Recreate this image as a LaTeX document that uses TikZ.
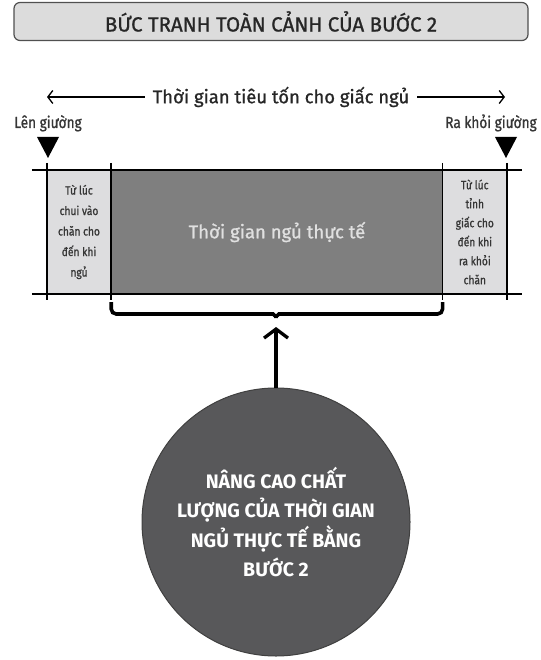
\documentclass[tikz,border=0pt]{standalone}
\usepackage{fontspec}
\setmainfont{Fira Sans}[FakeBold=1]
\newfontfamily\narrowfont{Fira Sans}[FakeStretch=0.85,FakeBold=1]
\newfontfamily\goalfont{Fira Sans}
\usetikzlibrary{positioning}
\usetikzlibrary{arrows.meta}
\definecolor{titlegray}{HTML}{DCDCDC}
\definecolor{framegray}{HTML}{505050}
\definecolor{wakegray}{HTML}{DDDDDF}
\definecolor{sleepgray}{HTML}{7F7F7F}
\definecolor{goalgray}{HTML}{58585A}
\definecolor{inkgray}{HTML}{363636}

\tikzset{
	phase/.style={inner sep=0pt, minimum height=124pt, align=center, text=inkgray},
	bedlabel/.style={anchor=base, text=inkgray, font=\narrowfont\fontsize{16}{18}\selectfont},
	bedmark/.style={fill=black},
	timeline/.style={line width=1.6pt},
	spanarrow/.style={line width=1.3pt, -{Straight Barb[length=5pt,width=13pt]}},
	goalarrow/.style={line width=3.3pt, -{Straight Barb[length=9pt,width=24pt]}}
}

\begin{document}
\begin{tikzpicture}[x=1pt,y=-1pt]
	\useasboundingbox (0,0) rectangle (540,660);
	\node[draw=framegray, line width=1.2pt, fill=titlegray, rounded corners=6pt, minimum width=514pt, minimum height=38pt, font=\fontsize{20.5}{24}\selectfont, text=black!85] (title) at (271,21.5) {BỨC TRANH TOÀN CẢNH CỦA BƯỚC 2};

	\node[font=\fontsize{18.4}{22}\selectfont, text=black!85, inner xsep=8pt] (span) at (281,97) {Thời gian tiêu tốn cho giấc ngủ};
	\coordinate (spanL) at (47,97);
	\coordinate (spanR) at (505,97);
	\draw[spanarrow] (span.west) -- (spanL);
	\draw[spanarrow] (span.east) -- (spanR);

	\node[bedlabel] (inbed) at (48,128) {Lên giường};
	\node[bedlabel] (outbed) at (491,128) {Ra khỏi giường};
	\fill[bedmark] (37,137) -- (59,137) -- (48,158) -- cycle;
	\fill[bedmark] (495,137) -- (517,137) -- (506,158) -- cycle;

	\node[phase, fill=wakegray, minimum width=64pt, font=\narrowfont\fontsize{12}{20.5}\selectfont] (onset) at (79,232) {Từ lúc\\chui vào\\chăn cho\\đến khi\\ngủ};
	\node[phase, fill=sleepgray, minimum width=331pt, right=0pt of onset, text=white!88!black, font=\fontsize{18.5}{24}\selectfont] (actual) {Thời gian ngủ thực tế};
	\node[phase, fill=wakegray, minimum width=64pt, right=0pt of actual, font=\narrowfont\fontsize{12}{19}\selectfont] (wake) {Từ lúc\\tỉnh\\giấc cho\\đến khi\\ra khỏi\\chăn};

	\draw[timeline] ([xshift=-15pt]onset.north west) -- ([xshift=15pt]wake.north east);
	\draw[timeline] ([xshift=-15pt]onset.south west) -- ([xshift=15pt]wake.south east);
	\draw[timeline] ([yshift=7pt]onset.north west) -- ([yshift=-6pt]onset.south west);
	\draw[timeline] ([yshift=7pt]actual.north west) -- ([yshift=-6pt]actual.south west);
	\draw[timeline] ([yshift=7pt]wake.north west) -- ([yshift=-6pt]wake.south west);
	\draw[timeline] ([yshift=7pt]wake.north east) -- ([yshift=-6pt]wake.south east);

	\coordinate (braceL) at ([yshift=-8pt]actual.south west);
	\coordinate (braceR) at ([yshift=-8pt]actual.south east);
	\coordinate (bracemid) at (276,321);
	\draw[line width=3.6pt, rounded corners=5pt] (braceL) |- (268,314) .. controls (273,314) and (276,317) .. (bracemid) .. controls (276,317) and (279,314) .. (284,314) -| (braceR);
	\coordinate (bracetip) at (276,327);

	\node[circle, draw=black!75, line width=1pt, fill=goalgray, minimum size=268pt, text=white, align=center, font=\goalfont\bfseries\fontsize{19.5}{29.5}\selectfont] (goal) at (276,522) {NÂNG CAO CHẤT\\LƯỢNG CỦA THỜI GIAN\\NGỦ THỰC TẾ BẰNG\\BƯỚC 2};
	\draw[goalarrow] (goal.north) -- (bracetip);
\end{tikzpicture}
\end{document}
